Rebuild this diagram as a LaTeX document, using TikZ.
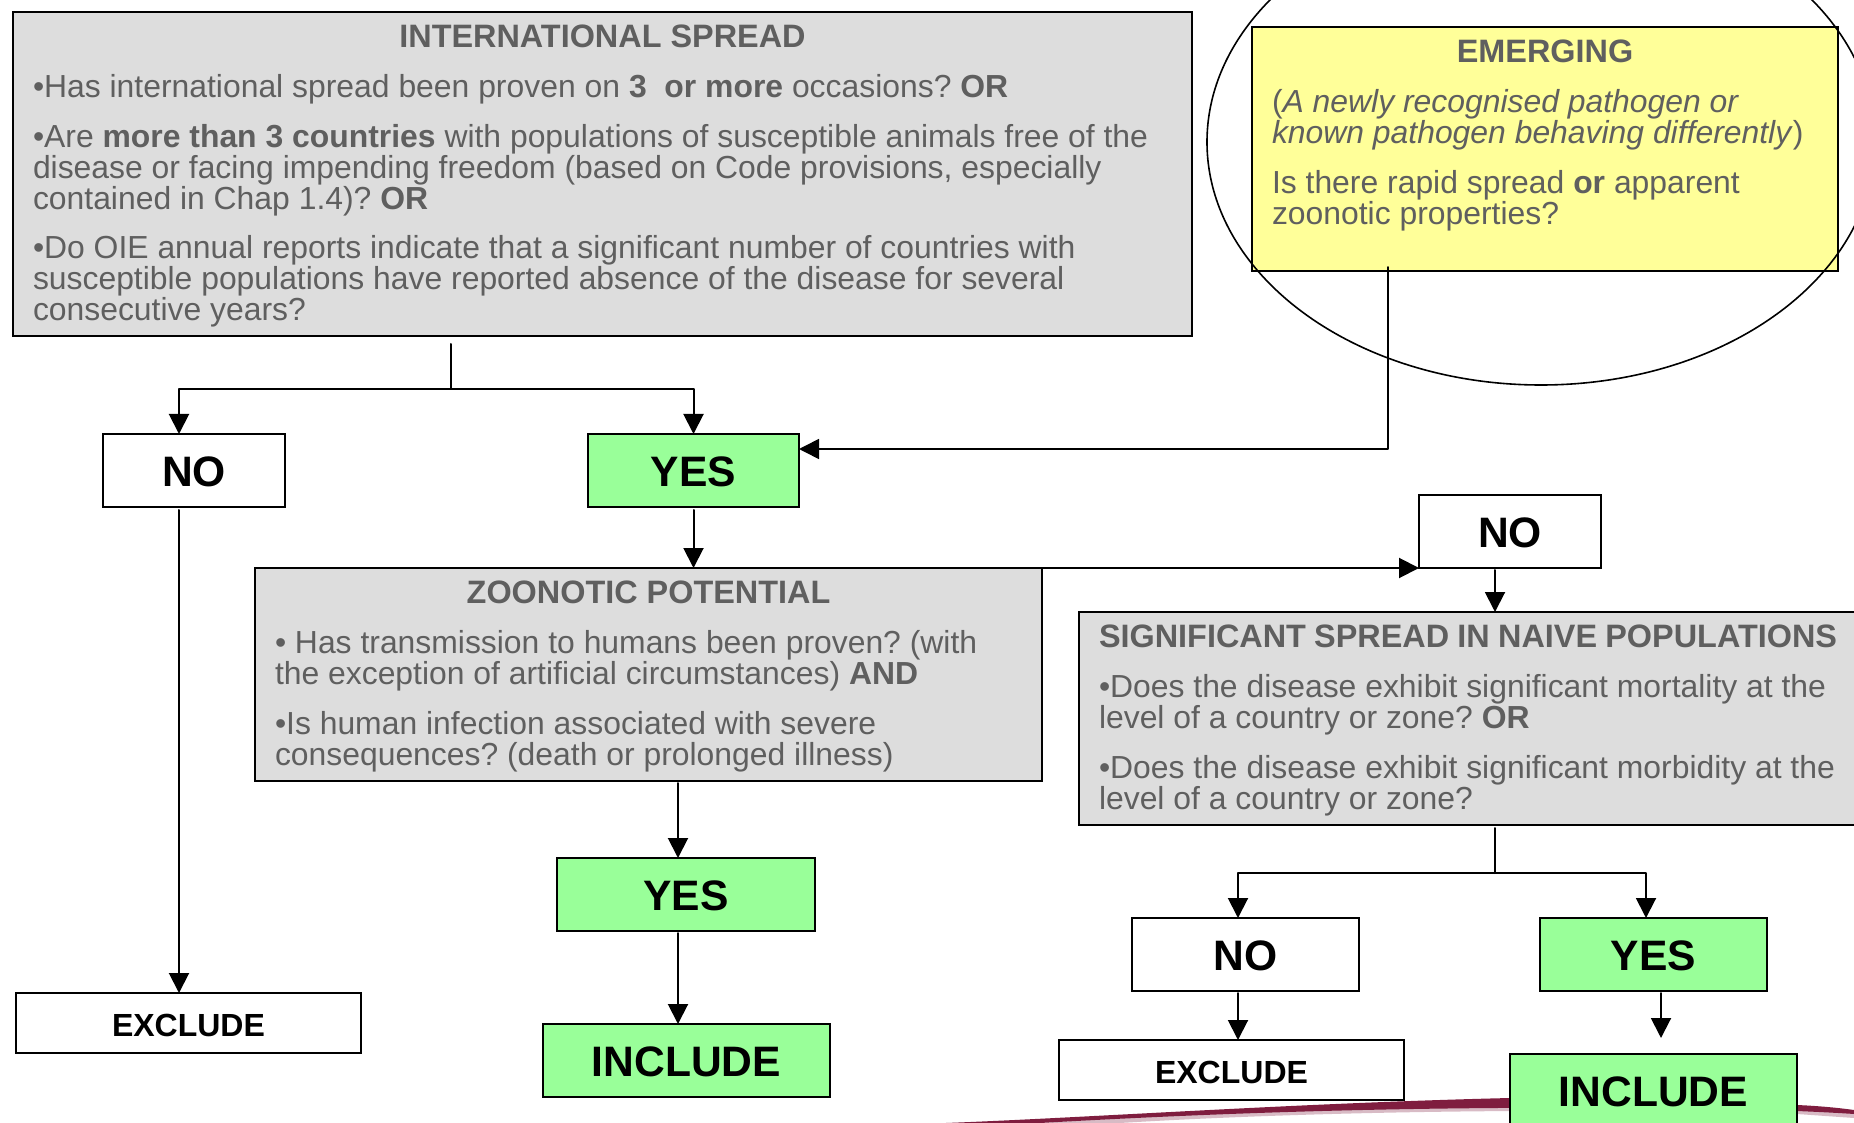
\documentclass[tikz,border=0pt]{standalone}
\usepackage{fontspec}
\setmainfont{Liberation Sans}
\usepackage{xcolor}
\usetikzlibrary{arrows.meta,calc,shapes.geometric}
\definecolor{panelgray}{HTML}{DDDDDD}
\definecolor{paneltext}{HTML}{5F5F5F}
\definecolor{yesgreen}{HTML}{99FF99}
\definecolor{paleyellow}{HTML}{FFFF99}
\definecolor{swooshred}{HTML}{7F1D3F}
\newcommand{\panelbody}[3]{\parbox[c][#2][t]{#1}{\fontsize{15.94}{15.4}\selectfont\frenchspacing\raggedright\setlength{\parskip}{9.5pt}\setlength{\parindent}{0pt}#3}}
\newcommand{\paneltitle}[1]{{\centering\fontsize{16.2}{15.4}\selectfont\textbf{#1}\par}}
\tikzset{
  panel/.style={draw=black,line width=1pt,text=paneltext,anchor=north west,inner xsep=10pt,inner ysep=6.6pt,outer sep=0pt},
  answer/.style={draw=black,line width=1pt,fill=white,anchor=north west,inner sep=0pt,outer sep=0pt,text=black,text height=16pt,font=\fontsize{21.3}{24}\selectfont\bfseries},
  small answer/.style={answer,text height=13.5pt,font=\fontsize{16}{19}\selectfont\bfseries},
  flow/.style={line width=1pt,line cap=round,line join=round},
}
\begin{document}
\begin{tikzpicture}[x=0.5pt,y=-0.5pt,>={Triangle[length=10pt,width=10pt]}]
\useasboundingbox (0,0) rectangle (1854,1123);
\clip (0,0) rectangle (1854,1123);
% swoosh behind the lower boxes
\fill[swooshred!30] (1040,1123) .. controls (1200,1113) and (1400,1105) .. (1510,1103) -- (1854,1112) -- (1854,1118) -- (1797,1114) .. controls (1500,1106) and (1250,1115) .. (1120,1123) -- cycle;
\fill[swooshred] (946,1123) .. controls (1100,1117) and (1300,1103) .. (1510,1098) -- (1797,1105) .. controls (1820,1106) and (1840,1108) .. (1854,1110) -- (1854,1114) .. controls (1840,1113) and (1820,1112) .. (1797,1111) .. controls (1500,1103) and (1250,1111) .. (1040,1123) -- cycle;
% question boxes
\node[panel,fill=panelgray] (intl) at (13,12) {\panelbody{569.5pt}{148.8pt}{\paneltitle{INTERNATIONAL SPREAD}
•Has international spread been proven on \textbf{3 \ or more} occasions? \textbf{OR}\par
•Are \textbf{more than 3 countries} with populations of susceptible animals free of the\\
disease or facing impending freedom (based on Code provisions, especially\\
contained in Chap 1.4)? \textbf{OR}\par
•Do OIE annual reports indicate that a significant number of countries with\\
susceptible populations have reported absence of the disease for several\\
consecutive years?}};
\node[panel,fill=paleyellow] (emerging) at (1252,27) {\panelbody{273pt}{108.8pt}{\paneltitle{EMERGING}
(\textit{A newly recognised pathogen or}\\
\textit{known pathogen behaving differently})\par
Is there rapid spread \textbf{or} apparent\\
zoonotic properties?}};
\node[draw=black,ellipse,line width=0.8pt,minimum width=334pt,minimum height=243pt,inner sep=0pt,outer sep=0pt] (ring) at (1541,142) {};
\node[panel,fill=panelgray] (zoonotic) at (255,568) {\panelbody{373.5pt}{93.3pt}{\paneltitle{ZOONOTIC POTENTIAL}
• Has transmission to humans been proven? (with\\
the exception of artificial circumstances) \textbf{AND}\par
•Is human infection associated with severe\\
consequences? (death or prolonged illness)}};
\node[panel,fill=panelgray] (naive) at (1079,612) {\panelbody{369pt}{93.3pt}{\paneltitle{SIGNIFICANT SPREAD IN NAIVE POPULATIONS}
•Does the disease exhibit significant mortality at the\\
level of a country or zone? \textbf{OR}\par
•Does the disease exhibit significant morbidity at the\\
level of a country or zone?}};
% answers
\node[answer,minimum width=91pt,minimum height=36.5pt] (noa) at (103,434) {NO};
\node[answer,fill=yesgreen,minimum width=105.5pt,minimum height=36.5pt] (yesa) at (588,434) {YES};
\node[answer,minimum width=91pt,minimum height=36.5pt] (nob) at (1419,495) {NO};
\node[answer,fill=yesgreen,minimum width=129pt,minimum height=36.5pt] (yesb) at (557,858) {YES};
\node[answer,minimum width=113.5pt,minimum height=36.5pt] (noc) at (1132,918) {NO};
\node[answer,fill=yesgreen,minimum width=113.5pt,minimum height=36.5pt] (yesc) at (1540,918) {YES};
\node[small answer,minimum width=172.5pt,minimum height=30pt] (excludea) at (16,993) {EXCLUDE};
\node[small answer,minimum width=172.5pt,minimum height=30pt] (excludeb) at (1059,1040) {EXCLUDE};
\node[answer,fill=yesgreen,minimum width=143.5pt,minimum height=36.5pt] (includea) at (543,1024) {INCLUDE};
\node[answer,fill=yesgreen,minimum width=143.5pt,minimum height=36.5pt] (includeb) at (1510,1054) {INCLUDE};
% connectors
\coordinate (intlstub) at (451,344);
\coordinate (intljoin) at (451,389);
\coordinate (naivejoin) at (1495,873);
\coordinate (emergingdrop) at (1388,267);
\coordinate (yescdrop) at (1661,1038);
\draw[flow] (intlstub) -- (intljoin);
\draw[flow,->] (intljoin) -| ([xshift=-7.5pt]noa.north);
\draw[flow,->] (intljoin) -| (yesa.north);
\draw[flow,->] ([xshift=-7.5pt,yshift=-1.5pt]noa.south) -- ([xshift=-4.75pt]excludea.north);
\draw[flow,->] ([yshift=-1.5pt]yesa.south) -- (yesa.south |- zoonotic.north);
\draw[flow,line width=0.8pt,->] (emergingdrop) |- ([yshift=-7.5pt]yesa.north east);
\draw[flow,->] (zoonotic.north east) -- (nob.south west);
\draw[flow,->] ([xshift=-7.5pt,yshift=-1pt]nob.south) -- ([xshift=-7.5pt]nob.south |- naive.north);
\draw[flow,->] (678,783) -- ([xshift=-4pt]yesb.north);
\draw[flow,->] ([xshift=-4pt,yshift=-1pt]yesb.south) -- ([xshift=-4pt]yesb.south |- includea.north);
\draw[flow] (1495,828) -- (naivejoin);
\draw[flow,->] (naivejoin) -| ([xshift=-3.75pt]noc.north);
\draw[flow,->] (naivejoin) -| ([xshift=-3.75pt]yesc.north);
\draw[flow,->] ([xshift=-3.75pt,yshift=-1pt]noc.south) -- ([xshift=-3.75pt]noc.south |- excludeb.north);
\draw[flow,->] ([xshift=3.75pt,yshift=-1pt]yesc.south) -- (yescdrop);
\end{tikzpicture}
\end{document}
